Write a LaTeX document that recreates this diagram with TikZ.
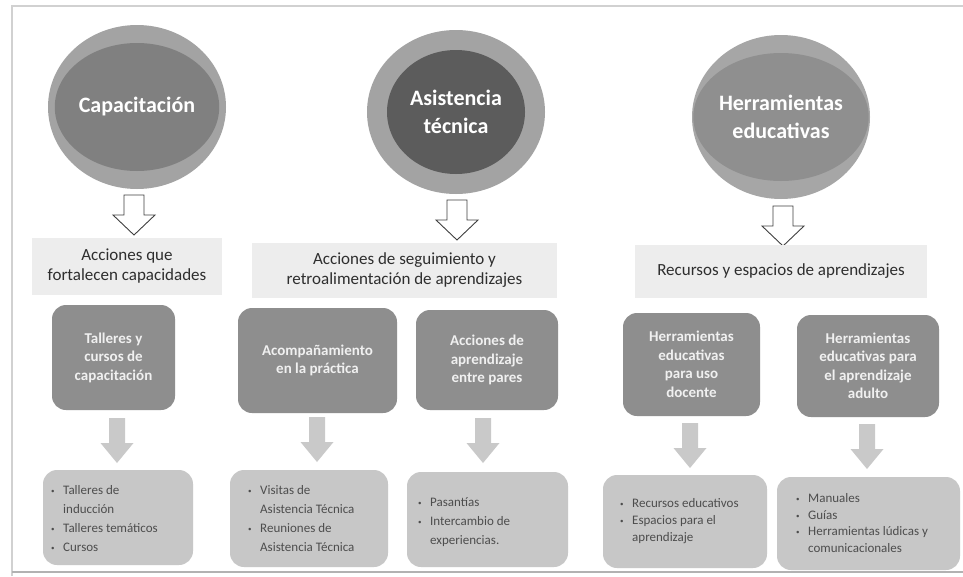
\documentclass[tikz,border=0pt]{standalone}
\usepackage{fontspec}
\setmainfont{Carlito}
\usepackage{xcolor}
\usetikzlibrary{shapes.geometric}

\definecolor{ringgray}{HTML}{A3A3A3}
\definecolor{headgray}{HTML}{EDEDED}
\definecolor{boxgray}{HTML}{8E8E8E}
\definecolor{listgray}{HTML}{C7C7C7}
\definecolor{arrowgray}{HTML}{C9C9C9}
\definecolor{inkgray}{HTML}{2E2E2E}

\newcommand{\bul}[1]{\makebox[12pt][l]{\raisebox{1pt}{\scriptsize\textbullet}}#1}
\newcommand{\cont}[1]{\hspace*{12pt}#1}

\tikzset{
  hollowarrow/.pic={
    \draw[black!75, fill=white, line width=0.9pt, line join=miter]
      (-10,0) -- (10,0) -- (10,20) -- (21,20) -- (0,40) -- (-21,20) -- (-10,20) -- cycle;
  },
  solidarrow/.pic={
    \fill[arrowgray] (-8,0) -- (8,0) -- (8,25) -- (16.5,25) -- (0,45) -- (-16.5,25) -- (-8,25) -- cycle;
  }
}

\begin{document}
\begin{tikzpicture}[x=1pt,y=-1pt,
  ring/.style={ellipse, fill=ringgray, minimum width=178pt, minimum height=164pt, inner sep=0pt},
  core/.style={ellipse, minimum width=140pt, minimum height=128pt, inner sep=0pt,
    text=white, align=center, font=\fontsize{22}{28}\selectfont\bfseries},
  headbox/.style={fill=headgray, align=center, text=inkgray, inner sep=0pt,
    font=\fontsize{17}{20.5}\selectfont},
  actbox/.style={fill=boxgray, rounded corners=14pt, align=center, text=white!94!black,
    inner sep=0pt, font=\fontsize{15}{18.5}\selectfont\bfseries},
  listbox/.style={fill=listgray, rounded corners=14pt, inner sep=0pt},
  listtext/.style={anchor=west, align=left, text=inkgray!85, inner sep=0pt}]
  \useasboundingbox (0,0) rectangle (963,576);
  \fill[white] (0,0) rectangle (963,576);
  \draw[black!18, line width=1.2pt] (12,576) -- (12,6) -- (963,6);
  \draw[black!30, line width=1.5pt] (12,572) -- (963,572);

  % circles
  \node[ring] (capring) at (137,107) {};
  \node[core, fill=black!50] (cap) at (capring) {Capacitación};
  \node[ring] (asiring) at (456,112) {};
  \node[core, fill=black!64, minimum width=138pt, minimum height=124pt] (asi) at (asiring) {Asistencia\\técnica};
  \node[ring, fill=black!35] (herring) at (781,117) {};
  \node[core, fill=black!44, minimum width=142pt] (her) at (herring) {Herramientas\\educativas};

  % hollow arrows
  \pic at (134,195) {hollowarrow};
  \pic at (457,200) {hollowarrow};
  \pic at (783,206) {hollowarrow};

  % light headers
  \node[headbox, minimum width=190pt, minimum height=57pt] (acc) at (127,266) {Acciones que\\fortalecen capacidades};
  \node[headbox, minimum width=305pt, minimum height=55pt] (seg) at (404.5,270) {Acciones de seguimiento y\\retroalimentación de aprendizajes};
  \node[headbox, minimum width=292pt, minimum height=53pt] (rec) at (781,271) {Recursos y espacios de aprendizajes};

  % dark boxes
  \node[actbox, minimum width=123pt, minimum height=105pt] (tal) at (113.5,357.5) {Talleres y\\cursos de\\capacitación};
  \node[actbox, minimum width=159pt, minimum height=105pt] (aco) at (317.5,360.5) {Acompañamiento\\en la práctica};
  \node[actbox, minimum width=142pt, minimum height=100pt] (par) at (487,360) {Acciones de\\aprendizaje\\entre pares};
  \node[actbox, minimum width=137pt, minimum height=103pt] (doc) at (691.5,364.5) {Herramientas\\educativas\\para uso\\docente};
  \node[actbox, minimum width=142pt, minimum height=102pt] (adu) at (868,366) {Herramientas\\educativas para\\el aprendizaje\\adulto};

  % solid arrows
  \pic at (117,418) {solidarrow};
  \pic at (317,417) {solidarrow};
  \pic at (483,418) {solidarrow};
  \pic at (690,423) {solidarrow};
  \pic at (867,424) {solidarrow};

  % lists
  \node[listbox, minimum width=150pt, minimum height=95pt] (l1) at (118,517.5) {};
  \node[listbox, minimum width=158pt, minimum height=97pt] (l2) at (309,518.5) {};
  \node[listbox, minimum width=161pt, minimum height=95pt] (l3) at (487.5,519.5) {};
  \node[listbox, minimum width=164pt, minimum height=93pt] (l4) at (685,521.5) {};
  \node[listbox, minimum width=183pt, minimum height=93pt] (l5) at (868.5,523.5) {};

  \node[listtext, font=\fontsize{13}{19}\selectfont] (t1) at (51,518.5)
    {\bul{Talleres de}\\\cont{inducción}\\\bul{Talleres temáticos}\\\bul{Cursos}};
  \node[listtext, font=\fontsize{13}{19}\selectfont] (t2) at (248,518.5)
    {\bul{Visitas de}\\\cont{Asistencia Técnica}\\\bul{Reuniones de}\\\cont{Asistencia Técnica}};
  \node[listtext, font=\fontsize{13}{19}\selectfont] (t3) at (418,522)
    {\bul{Pasantías}\\\bul{Intercambio de}\\\cont{experiencias.}};
  \node[listtext, font=\fontsize{13}{17}\selectfont] (t4) at (620,521.5)
    {\bul{Recursos educativos}\\\bul{Espacios para el}\\\cont{aprendizaje}};
  \node[listtext, font=\fontsize{13}{16.7}\selectfont] (t5) at (796,523)
    {\bul{Manuales}\\\bul{Guías}\\\bul{Herramientas lúdicas y}\\\cont{comunicacionales}};
\end{tikzpicture}
\end{document}
